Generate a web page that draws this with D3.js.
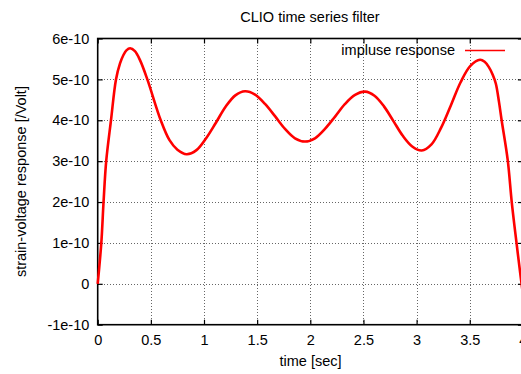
<!DOCTYPE html>
<html>
<head>
<meta charset="utf-8">
<script src="https://cdn.jsdelivr.net/npm/d3@7"></script>
<style>
  html, body { margin: 0; padding: 0; background: #fff; }
  svg { display: block; font-family: "Liberation Sans", Arial, sans-serif; }
</style>
</head>
<body>
<svg id="chart" width="521" height="374"></svg>
<script>
// ---- data ----
const chartTitle = "CLIO time series filter";
const xLabel = "time [sec]";
const yLabel = "strain-voltage response [/Volt]";
const seriesName = "impluse response";

const xTicks = [0, 0.5, 1, 1.5, 2, 2.5, 3, 3.5, 4];
const xTickLabels = ["0", "0.5", "1", "1.5", "2", "2.5", "3", "3.5", "4"];
const yTicks = [-1e-10, 0, 1e-10, 2e-10, 3e-10, 4e-10, 5e-10, 6e-10];
const yTickLabels = ["-1e-10", "0", "1e-10", "2e-10", "3e-10", "4e-10", "5e-10", "6e-10"];

// time in seconds, response in units of 1e-10
const timeSec = [
  0, 0.034, 0.055, 0.08, 0.125, 0.172, 0.21, 0.241, 0.27, 0.305, 0.35,
  0.398, 0.467, 0.593, 0.674, 0.75, 0.837,
  0.929, 1.020, 1.112, 1.203, 1.295, 1.386,
  1.480, 1.574, 1.668, 1.762, 1.856, 1.95,
  2.044, 2.138, 2.233, 2.327, 2.421, 2.515,
  2.604, 2.693, 2.782, 2.870, 2.959, 3.048,
  3.140, 3.231, 3.323, 3.414, 3.506, 3.597,
  3.64, 3.68, 3.715, 3.745, 3.775, 3.80, 3.857, 3.895, 3.94, 3.98, 4.0];
const responseE10 = [
  0, 1.0, 2.0, 3.0, 4.0, 5.0, 5.39, 5.59, 5.71, 5.76, 5.69,
  5.47, 5.0, 4.0, 3.52, 3.28, 3.17,
  3.27, 3.56, 3.94, 4.33, 4.61, 4.71,
  4.63, 4.40, 4.10, 3.79, 3.56, 3.48,
  3.56, 3.79, 4.09, 4.40, 4.62, 4.70,
  4.60, 4.34, 3.98, 3.62, 3.36, 3.26,
  3.41, 3.82, 4.37, 4.93, 5.33, 5.48,
  5.43, 5.30, 5.12, 4.90, 4.45, 4.0, 3.03, 2.0, 1.0, 0.15, -0.25];

// ---- layout ----
const svg = d3.select("#chart");
const pL = 97.7, pR = 522.9, pT = 38.5, pB = 324.7;
const FS = 14.5;

const x = d3.scaleLinear().domain([0, 4]).range([pL, pR]);
const y = d3.scaleLinear().domain([-1e-10, 6e-10]).range([pB, pT]);

// grid
const grid = svg.append("g").attr("stroke", "#666").attr("stroke-width", 1)
  .attr("stroke-dasharray", "1,2").attr("shape-rendering", "crispEdges");
grid.selectAll("line.v").data(xTicks.slice(1, -1)).join("line")
  .attr("x1", d => Math.round(x(d)) + 0.5).attr("x2", d => Math.round(x(d)) + 0.5)
  .attr("y1", pT).attr("y2", pB);
grid.selectAll("line.h").data(yTicks.slice(1, -1)).join("line")
  .attr("y1", d => Math.round(y(d)) + 0.5).attr("y2", d => Math.round(y(d)) + 0.5)
  .attr("x1", pL).attr("x2", pR);

// axes
const fmtX = d => xTickLabels[xTicks.indexOf(d)];
const fmtY = d => yTickLabels[yTicks.indexOf(d)];

const gx = svg.append("g").attr("transform", `translate(0,${pB})`)
  .call(d3.axisBottom(x).tickValues(xTicks).tickFormat(fmtX)
    .tickSizeInner(-5).tickSizeOuter(0).tickPadding(10));
const gy = svg.append("g").attr("transform", `translate(${pL},0)`)
  .call(d3.axisLeft(y).tickValues(yTicks).tickFormat(fmtY)
    .tickSizeInner(-5).tickSizeOuter(0).tickPadding(8.4));
const gt = svg.append("g").attr("transform", `translate(0,${pT})`)
  .call(d3.axisTop(x).tickValues(xTicks).tickFormat("")
    .tickSizeInner(-5).tickSizeOuter(0));
const gr = svg.append("g").attr("transform", `translate(${pR},0)`)
  .call(d3.axisRight(y).tickValues(yTicks).tickFormat("")
    .tickSizeInner(-5).tickSizeOuter(0));

[gx, gy, gt, gr].forEach(g => {
  g.select(".domain").remove();
  g.selectAll(".tick line").attr("stroke", "#000").attr("stroke-width", 1.2);
  g.selectAll(".tick text").attr("fill", "#000").attr("font-size", FS)
    .attr("font-family", "Liberation Sans, Arial, sans-serif");
});

// frame
svg.append("rect").attr("x", pL).attr("y", pT)
  .attr("width", pR - pL).attr("height", pB - pT)
  .attr("fill", "none").attr("stroke", "#000").attr("stroke-width", 1.6);

// curve
const pts = timeSec.map((t, i) => [t, responseE10[i] * 1e-10]);
const line = d3.line().x(d => x(d[0])).y(d => y(d[1])).curve(d3.curveCatmullRom.alpha(0.5));
svg.append("path").datum(pts).attr("d", line)
  .attr("fill", "none").attr("stroke", "#f00").attr("stroke-width", 2.6)
  .attr("stroke-linejoin", "round");

// title & labels
svg.append("text").attr("x", 310).attr("y", 22).attr("text-anchor", "middle")
  .attr("font-size", FS).text(chartTitle);
svg.append("text").attr("x", 310.5).attr("y", 366).attr("text-anchor", "middle")
  .attr("font-size", FS).text(xLabel);
svg.append("text").attr("transform", "translate(26,181.6) rotate(-90)")
  .attr("text-anchor", "middle").attr("font-size", FS).text(yLabel);

// legend
svg.append("text").attr("x", 455).attr("y", 55).attr("text-anchor", "end")
  .attr("font-size", FS).text(seriesName);
svg.append("line").attr("x1", 465).attr("x2", 505).attr("y1", 50.5).attr("y2", 50.5)
  .attr("stroke", "#f00").attr("stroke-width", 1.6);
</script>
</body>
</html>
